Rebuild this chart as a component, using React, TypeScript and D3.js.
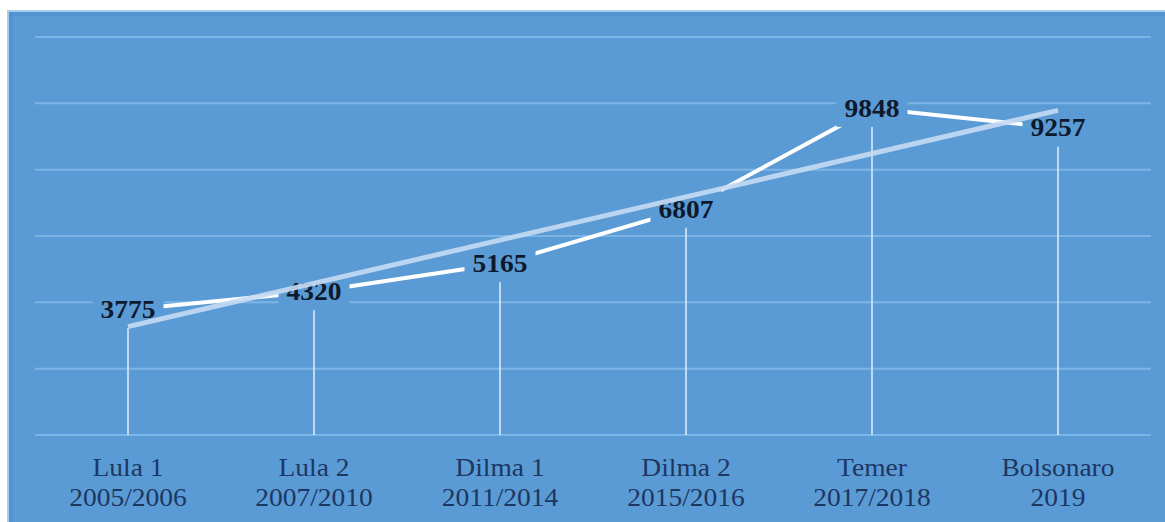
import React from "react";
import * as d3 from "d3";

const categories = ["Lula 1", "Lula 2", "Dilma 1", "Dilma 2", "Temer", "Bolsonaro"];
const periods = ["2005/2006", "2007/2010", "2011/2014", "2015/2016", "2017/2018", "2019"];
const values = [3775, 4320, 5165, 6807, 9848, 9257];
const yTicks = [0, 2000, 4000, 6000, 8000, 10000, 12000];

const W = 1165;
const H = 522;
const BG = "#5B9BD5";
const FONT = "'Liberation Serif', 'Times New Roman', serif";
const FS = 25;
const SX = 1.1;

export default function App() {
  const x = d3.scalePoint<string>().domain(categories).range([35, 1151]).padding(0.5);
  const y = d3.scaleLinear().domain([0, 12000]).range([435, 37]);

  // linear trendline (least squares on index 1..n)
  const n = values.length;
  const xs = values.map((_, i) => i + 1);
  const mx = d3.mean(xs)!;
  const my = d3.mean(values)!;
  const slope =
    d3.sum(xs.map((xi, i) => (xi - mx) * (values[i] - my))) /
    d3.sum(xs.map((xi) => (xi - mx) ** 2));
  const icpt = my - slope * mx;
  const trend = [1, n].map((xi) => ({ px: x(categories[xi - 1])!, py: y(icpt + slope * xi) }));

  const line = d3
    .line<number>()
    .x((_, i) => x(categories[i])!)
    .y((d) => y(d));

  return (
    <svg width={W} height={H} style={{ position: "absolute", left: 0, top: 0 }}>
      <rect x={0} y={0} width={W} height={H} fill="#ffffff" />
      <rect x={7} y={10} width={W - 7} height={H - 10} fill={BG} />
      <rect x={7} y={10} width={W - 7} height={2} fill="#a9cbec" />
      <rect x={7} y={12} width={W - 7} height={4} fill="#4f90d2" opacity={0.6} />
      <rect x={7} y={10} width={2} height={H - 10} fill="#a9cbec" />
      <rect x={9} y={12} width={4} height={H - 12} fill="#4f90d2" opacity={0.6} />

      {/* gridlines */}
      {yTicks.map((t) => (
        <line key={t} x1={35} x2={1151} y1={y(t)} y2={y(t)} stroke="#7db4e6" strokeWidth={2} />
      ))}

      {/* drop lines */}
      {values.map((v, i) => (
        <line
          key={"d" + i}
          x1={x(categories[i])}
          x2={x(categories[i])}
          y1={y(v)}
          y2={y(0)}
          stroke="#dbe9f7"
          strokeWidth={1.6}
        />
      ))}

      {/* data line */}
      <path d={line(values) || ""} fill="none" stroke="#ffffff" strokeWidth={4} />

      {/* data labels with background */}
      {values.map((v, i) => {
        const cx = x(categories[i])!;
        const cy = y(v);
        const tw = String(v).length * 0.5 * FS * SX;
        return (
          <g key={"l" + i}>
            <rect x={cx - tw / 2 - 8} y={cy - 18.5} width={tw + 16} height={37} fill={BG} />
            <text
              transform={`translate(${cx},${cy + 8.5}) scale(${SX},1)`}
              textAnchor="middle"
              fontFamily={FONT}
              fontWeight="bold"
              fontSize={FS}
              fill="#0e1a2c"
            >
              {v}
            </text>
          </g>
        );
      })}

      {/* trendline */}
      <line
        x1={trend[0].px}
        y1={trend[0].py}
        x2={trend[1].px}
        y2={trend[1].py}
        stroke="#c6dcf3"
        strokeWidth={5}
        opacity={0.9}
      />

      {/* category labels */}
      {categories.map((c, i) => {
        const cx = x(c)!;
        return (
          <g key={"c" + i} fontFamily={FONT} fontSize={FS} fill="#1d3763">
            <text transform={`translate(${cx},${476}) scale(${SX},1)`} textAnchor="middle">
              {c}
            </text>
            <text transform={`translate(${cx},${506}) scale(${SX},1)`} textAnchor="middle">
              {periods[i]}
            </text>
          </g>
        );
      })}
    </svg>
  );
}
